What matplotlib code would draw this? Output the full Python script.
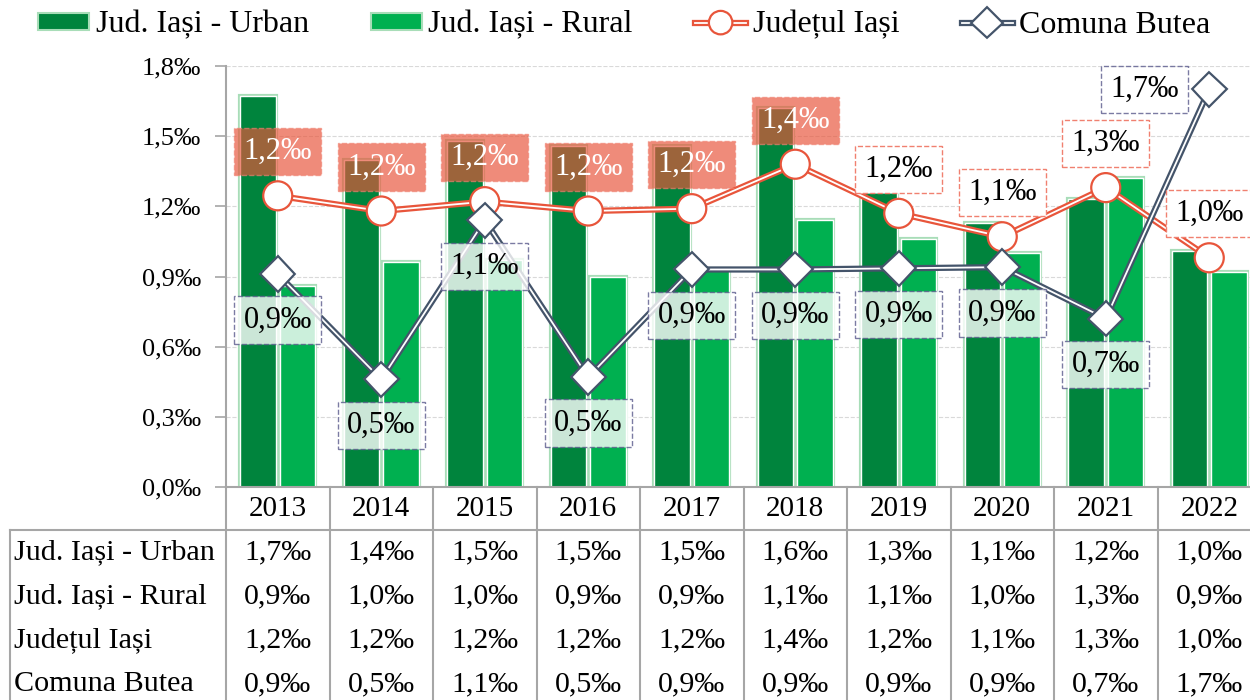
import matplotlib
matplotlib.use("Agg")
import matplotlib.pyplot as plt
import matplotlib.patheffects as pe
from matplotlib.patches import Patch
from matplotlib.lines import Line2D
from matplotlib.ticker import FuncFormatter, MultipleLocator

plt.rcParams['font.family'] = ['Liberation Serif', 'DejaVu Serif']

# date (valori estimate din grafic)
ani = ['2013', '2014', '2015', '2016', '2017', '2018', '2019', '2020', '2021', '2022']
urban = [1.67, 1.40, 1.48, 1.46, 1.46, 1.62, 1.26, 1.13, 1.23, 1.01]
rural = [0.86, 0.96, 0.97, 0.90, 0.93, 1.14, 1.06, 1.00, 1.32, 0.92]
judet = [1.245, 1.18, 1.22, 1.18, 1.19, 1.38, 1.17, 1.07, 1.28, 0.98]
butea = [0.91, 0.46, 1.14, 0.47, 0.93, 0.93, 0.935, 0.94, 0.72, 1.70]
serii = ['Jud. Iași - Urban', 'Jud. Iași - Rural', 'Județul Iași', 'Comuna Butea']

c_urban = '#00843D'
c_rural = '#00B050'
c_judet = '#E8553B'
c_butea = '#44546A'
c_grid = '#A6A6A6'


def fmt(v):
    return f"{v:.1f}".replace('.', ',') + '‰'


W, H = 1250, 700
fig = plt.figure(figsize=(W / 100, H / 100), dpi=100)

# axa principala: x de la 226px la 1261px, y de la 66px la 487px
ax = fig.add_axes([226 / W, (H - 487) / H, 1035 / W, (487 - 66) / H])
x = list(range(len(ani)))

# bare cu contur dublu (verde deschis + alb)
for off, vals, col in [(-0.19, urban, c_urban), (0.19, rural, c_rural)]:
    ax.bar([i + off for i in x], vals, width=0.34, color='none',
           edgecolor='#A8DDB8', linewidth=3, zorder=2)
    ax.bar([i + off for i in x], vals, width=0.34, color=col,
           edgecolor='white', linewidth=1, zorder=2)

dublu_judet = [pe.Stroke(linewidth=4.5, foreground=c_judet), pe.Normal()]
dublu_butea = [pe.Stroke(linewidth=4.5, foreground=c_butea), pe.Normal()]

ax.plot(x, judet, color='white', linewidth=1.3, marker='o', markersize=18,
        markerfacecolor='white', markeredgecolor='white', markeredgewidth=1.3,
        path_effects=dublu_judet, zorder=4)
ax.plot(x, butea, color='white', linewidth=1.3, marker='D', markersize=15,
        markerfacecolor='white', markeredgecolor='white', markeredgewidth=1.3,
        path_effects=dublu_butea, zorder=4)

# etichete Judetul Iasi (deasupra)
plin = [True, True, True, True, True, True, False, False, False, False]
for i, v in enumerate(judet):
    if plin[i]:
        box = dict(boxstyle='square,pad=0.3', fc=c_judet, alpha=0.68,
                   ec='#F08070', ls='--', lw=1)
        col = 'white'
    else:
        box = dict(boxstyle='square,pad=0.3', fc='white', ec='#F08070', ls='--', lw=1)
        col = 'black'
    ax.annotate(fmt(v), (i, v), xytext=(0, 44), textcoords='offset pixels',
                ha='center', va='center', fontsize=22, color=col, bbox=box, zorder=6)

# etichete Comuna Butea (dedesubt, ultima la stanga)
for i, v in enumerate(butea):
    off = (-65, 0) if i == len(butea) - 1 else (0, -46)
    box = dict(boxstyle='square,pad=0.3', fc='white', alpha=0.8,
               ec='#5A5A8C', ls='--', lw=1)
    ax.annotate(fmt(v), (i, v), xytext=off, textcoords='offset pixels',
                ha='center', va='center', fontsize=22, color='black', bbox=box, zorder=6)

ax.set_xlim(-0.5, len(ani) - 0.5)
ax.set_ylim(0, 1.8)
ax.yaxis.set_major_locator(MultipleLocator(0.3))
ax.yaxis.set_major_formatter(FuncFormatter(lambda v, p: fmt(v)))
ax.grid(axis='y', color='#D9D9D9', linestyle='--', linewidth=0.8, zorder=0)
ax.set_axisbelow(True)
ax.set_xticks([])
for s in ['top', 'right']:
    ax.spines[s].set_visible(False)
ax.spines['left'].set_color(c_grid)
ax.spines['bottom'].set_color(c_grid)
ax.spines['left'].set_linewidth(1.5)
ax.spines['bottom'].set_linewidth(1.5)
ax.tick_params(axis='y', colors=c_grid, length=8, width=1.2, pad=10,
               labelsize=19, labelcolor='black')

# tabelul de date de sub grafic
tab = fig.add_axes([226 / W, 0, 1035 / W, (H - 487) / H])
tab.set_xlim(-0.5, len(ani) - 0.5)
tab.set_ylim(700, 487)
tab.axis('off')
stanga = -0.5 - 216 / 103.5
for k in range(len(ani) + 1):
    tab.plot([k - 0.5, k - 0.5], [487, 700], color=c_grid, lw=1.5, clip_on=False)
tab.plot([stanga, len(ani) - 0.5], [530, 530], color=c_grid, lw=1.5, clip_on=False)
tab.plot([stanga, stanga], [530, 700], color=c_grid, lw=1.5, clip_on=False)
for i, an in enumerate(ani):
    tab.text(i, 509, an, ha='center', va='center', fontsize=21)
randuri_y = [552, 596, 640, 684]
for nume, vals, y in zip(serii, [urban, rural, judet, butea], randuri_y):
    tab.text(stanga + 0.04, y, nume, ha='left', va='center', fontsize=21.7, clip_on=False)
    for i, v in enumerate(vals):
        tab.text(i, y, fmt(v), ha='center', va='center', fontsize=21.5)

# legenda
handles = [
    Patch(facecolor=c_urban, edgecolor='#A8DDB8', linewidth=1.5),
    Patch(facecolor=c_rural, edgecolor='#A8DDB8', linewidth=1.5),
    Line2D([], [], color='white', lw=1.3, marker='o', markersize=14,
           markerfacecolor='white', markeredgecolor='white', markeredgewidth=1.3,
           path_effects=dublu_judet),
    Line2D([], [], color='white', lw=1.3, marker='D', markersize=13,
           markerfacecolor='white', markeredgecolor='white', markeredgewidth=1.3,
           path_effects=dublu_butea),
]
fig.legend(handles, serii, loc='center left', bbox_to_anchor=(38 / W, 1 - 25 / H),
           ncol=4, frameon=False, fontsize=23, handlelength=1.6, handleheight=0.45,
           handletextpad=0.2, columnspacing=1.95, borderpad=0, borderaxespad=0)

fig.savefig('out.png', dpi=100)
